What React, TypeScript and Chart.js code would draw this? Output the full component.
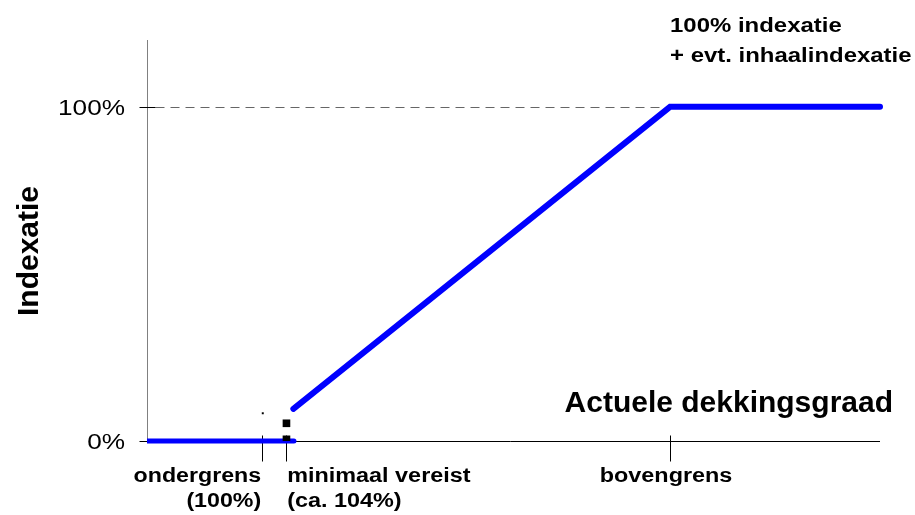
import React, { useEffect, useRef } from 'react';
import { Chart, registerables } from 'chart.js';

Chart.register(...registerables);

// ---- data ----
const xMin = 80.8;
const xMax = 203;
const yMin = 0;
const yMax = 120;

const zeroSegX = [80.8, 105.3];
const zeroSegY = [0, 0];
const rampX = [105.2, 168, 203];
const rampY = [9.6, 100, 100];
const markerX = [104.05, 104.05];
const markerY = [0.5, 5.3];
const dotX = [100.1];
const dotY = [8.3];

const yTickValues = [0, 100];
const yTickLabels = ['0%', '100%'];
const xTickValues = [100, 104, 168];
const xTickLabels = [['ondergrens', '(100%)'], ['minimaal vereist', '(ca. 104%)'], ['bovengrens']];
const xTitle = 'Actuele dekkingsgraad';
const yTitle = 'Indexatie';
const noteLines = ['100% indexatie', '+ evt. inhaalindexatie'];

const BLUE = '#0000ff';
const FONT = 'Arial, "Liberation Sans", Helvetica, sans-serif';

function drawText(
  ctx: CanvasRenderingContext2D,
  s: string,
  x: number,
  y: number,
  font: string,
  align: CanvasTextAlign,
  sx: number,
  rot = 0
) {
  ctx.save();
  ctx.translate(x, y);
  if (rot) ctx.rotate(rot);
  ctx.scale(sx, 1);
  ctx.font = font;
  ctx.textAlign = align;
  ctx.textBaseline = 'alphabetic';
  ctx.fillStyle = '#000';
  ctx.fillText(s, 0, 0);
  ctx.restore();
}

const axesPlugin = {
  id: 'customAxes',
  beforeDatasetsDraw(chart: any) {
    const ctx: CanvasRenderingContext2D = chart.ctx;
    const xs = chart.scales.x;
    const ys = chart.scales.y;
    const left = Math.round(xs.getPixelForValue(xMin)) + 0.5;
    const right = xs.getPixelForValue(xMax);
    const bottom = Math.round(ys.getPixelForValue(0)) + 0.5;
    const top = ys.getPixelForValue(yMax);
    ctx.save();
    // dashed 100% line
    const y100 = Math.round(ys.getPixelForValue(100)) + 0.5;
    ctx.strokeStyle = '#666';
    ctx.lineWidth = 1;
    ctx.setLineDash([9, 6]);
    ctx.beginPath();
    ctx.moveTo(left + 8, y100);
    ctx.lineTo(xs.getPixelForValue(168), y100);
    ctx.stroke();
    ctx.setLineDash([]);
    // y axis
    ctx.strokeStyle = '#808080';
    ctx.beginPath();
    ctx.moveTo(left, top);
    ctx.lineTo(left, bottom);
    ctx.stroke();
    // y ticks
    ctx.strokeStyle = '#000';
    yTickValues.forEach((v) => {
      const py = Math.round(ys.getPixelForValue(v)) + 0.5;
      ctx.beginPath();
      ctx.moveTo(left - 8, py);
      ctx.lineTo(v === 0 ? left : left + 8, py);
      ctx.stroke();
    });
    // x axis
    ctx.beginPath();
    ctx.moveTo(left - 7, bottom);
    ctx.lineTo(right, bottom);
    ctx.stroke();
    // x ticks
    xTickValues.forEach((v) => {
      const px = Math.round(xs.getPixelForValue(v)) + 0.5;
      ctx.beginPath();
      ctx.moveTo(px, bottom - 6);
      ctx.lineTo(px, bottom + 20);
      ctx.stroke();
    });
    ctx.restore();
  },
  afterDatasetsDraw(chart: any) {
    const ctx: CanvasRenderingContext2D = chart.ctx;
    const xs = chart.scales.x;
    const ys = chart.scales.y;
    const left = xs.getPixelForValue(xMin);
    const bottom = ys.getPixelForValue(0);
    // y tick labels
    yTickValues.forEach((v, i) => {
      const py = ys.getPixelForValue(v);
      drawText(ctx, yTickLabels[i], left - 22, py + 8, `normal 400 22px ${FONT}`, 'right', 1.19);
    });
    // x tick labels
    const bold20 = `bold 20px ${FONT}`;
    const p0 = xs.getPixelForValue(xTickValues[0]);
    drawText(ctx, xTickLabels[0][0], p0 - 1, bottom + 41, bold20, 'right', 1.16);
    drawText(ctx, xTickLabels[0][1], p0 - 1, bottom + 66, bold20, 'right', 1.16);
    const p1 = xs.getPixelForValue(xTickValues[1]);
    drawText(ctx, xTickLabels[1][0], p1 + 1, bottom + 41, bold20, 'left', 1.17);
    drawText(ctx, xTickLabels[1][1], p1 + 1, bottom + 66, bold20, 'left', 1.17);
    const p2 = xs.getPixelForValue(xTickValues[2]);
    drawText(ctx, xTickLabels[2][0], p2 - 4, bottom + 41, bold20, 'center', 1.17);
    // axis titles
    drawText(ctx, xTitle, 893, bottom - 29, `bold 30px ${FONT}`, 'right', 1.0);
    drawText(ctx, yTitle, 38, 251, `bold 30px ${FONT}`, 'center', 1.0, -Math.PI / 2);
    // note
    const bold21 = `bold 21px ${FONT}`;
    drawText(ctx, noteLines[0], p2, 32, bold21, 'left', 1.14);
    drawText(ctx, noteLines[1], p2, 62, bold21, 'left', 1.14);
  },
};

export default function App() {
  const ref = useRef<HTMLCanvasElement | null>(null);
  useEffect(() => {
    if (!ref.current) return;
    const toPts = (xa: number[], ya: number[]) => xa.map((x, i) => ({ x, y: ya[i] }));
    const chart = new Chart(ref.current, {
      type: 'scatter',
      data: {
        datasets: [
          {
            data: toPts(zeroSegX, zeroSegY),
            order: 2,
            showLine: true,
            borderColor: BLUE,
            borderWidth: 5,
            borderCapStyle: 'round',
            pointRadius: 0,
            clip: { left: 0, right: 6, top: 6, bottom: 6 },
          } as any,
          {
            data: toPts(rampX, rampY),
            order: 2,
            showLine: true,
            borderColor: BLUE,
            borderWidth: 6,
            borderCapStyle: 'round',
            borderJoinStyle: 'miter',
            pointRadius: 0,
            clip: { left: 0, right: 6, top: 6, bottom: 6 },
          } as any,
          {
            data: toPts(markerX, markerY),
            order: 0,
            showLine: false,
            pointStyle: 'rect',
            pointRadius: 5.4,
            backgroundColor: '#000',
            borderColor: '#000',
            borderWidth: 0,
          } as any,
          {
            data: toPts(dotX, dotY),
            order: 0,
            showLine: false,
            pointStyle: 'rect',
            pointRadius: 1.4,
            backgroundColor: '#000',
            borderWidth: 0,
          } as any,
        ],
      },
      options: {
        animation: false,
        responsive: true,
        maintainAspectRatio: false,
        devicePixelRatio: 1,
        layout: { padding: { left: 147, right: 35, top: 40, bottom: 74 } },
        plugins: { legend: { display: false }, tooltip: { enabled: false } },
        events: [],
        scales: {
          x: { type: 'linear', min: xMin, max: xMax, display: false },
          y: { type: 'linear', min: yMin, max: yMax, display: false },
        },
      },
      plugins: [axesPlugin],
    } as any);
    return () => chart.destroy();
  }, []);
  return (
    <div style={{ position: 'absolute', left: 0, top: 0, width: 915, height: 515, background: '#fff' }}>
      <canvas ref={ref} />
    </div>
  );
}
